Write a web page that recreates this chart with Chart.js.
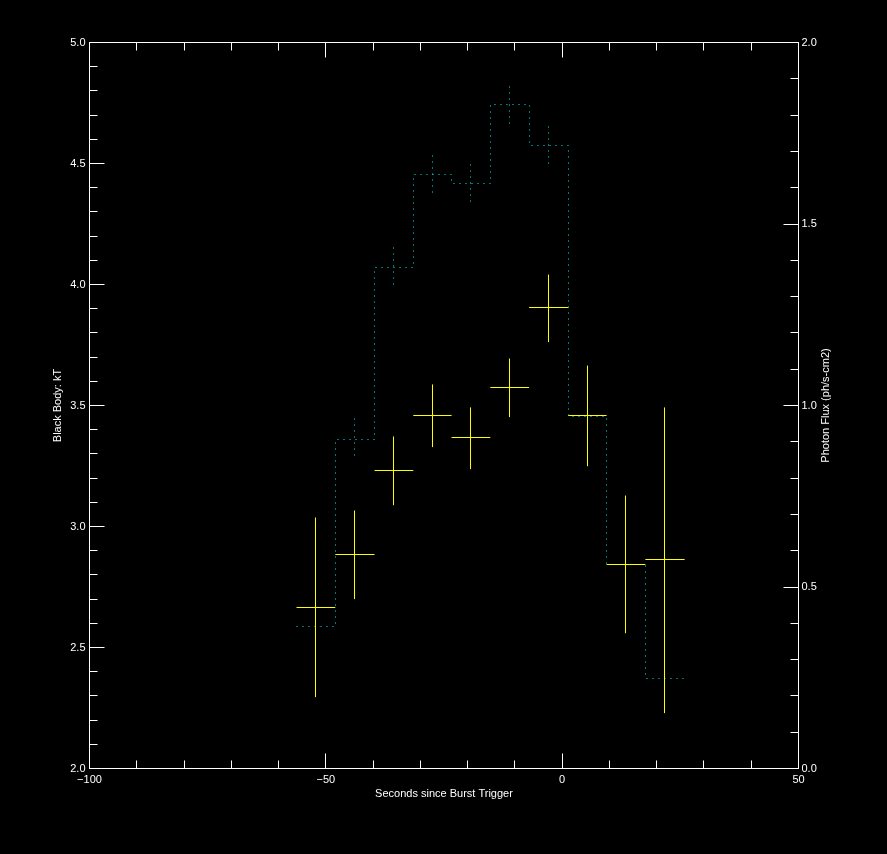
<!DOCTYPE html>
<html lang="en">
<head>
    <meta charset="UTF-8">
    <title>Black Body kT and Photon Flux</title>
    <script src="https://cdn.jsdelivr.net/npm/chart.js@4"></script>
    <style>
        html, body { margin: 0; padding: 0; background: #000; }
        canvas { display: block; }
    </style>
</head>
<body>
    <canvas id="burstChart" width="887" height="854"></canvas>

    <script>
        // time bins (seconds since burst trigger), 10 bins -> 11 edges
        const binEdges = [-56.2, -48.0, -39.7, -31.5, -23.4, -15.2, -7.0, 1.3, 9.4, 17.6, 25.9];

        // black body kT with its error range (left axis)
        const kT     = [2.664, 2.883, 3.230, 3.457, 3.367, 3.573, 3.904, 3.457, 2.843, 2.862];
        const kTLow  = [2.295, 2.700, 3.088, 3.328, 3.237, 3.452, 3.762, 3.249, 2.559, 2.229];
        const kTHigh = [3.037, 3.066, 3.372, 3.587, 3.492, 3.694, 4.041, 3.665, 3.128, 3.492];

        // photon flux (right axis), errors only where visible
        const flux     = [0.390, 0.905, 1.379, 1.636, 1.611, 1.828, 1.715, 0.970, 0.562, 0.247];
        const fluxLow  = [null, 0.848, 1.319, 1.572, 1.547, 1.762, 1.652, null, null, null];
        const fluxHigh = [null, 0.963, 1.434, 1.688, 1.663, 1.878, 1.768, null, null, null];

        // axis ranges and ticks
        const xRange = [-100, 50];
        const kTRange = [2.0, 5.0];
        const fluxRange = [0.0, 2.0];
        const xMajorStep = 50, xMinorStep = 10;
        const kTMajorStep = 0.5, kTMinorStep = 0.1;
        const fluxMajorStep = 0.5, fluxMinorStep = 0.1;

        const fluxColor = 'rgb(0,235,235)';
        const crossColor = '#ffff00';
        const txtFont = { family: 'Liberation Sans, Arial, sans-serif', size: 11 };

        // step line points: left edge of every bin, plus the final right edge
        const stepPoints = binEdges.map((e, i) => ({ x: e, y: i < flux.length ? flux[i] : flux[flux.length - 1] }));

        function crisp(v) { return Math.floor(v) + 0.5; }

        function minusLabel(v) {
            return v < 0 ? '\u2212' + Math.abs(v) : String(v);
        }

        const burstPlugin = {
            id: 'burstPlugin',
            beforeDraw(chart) {
                const c = chart.ctx;
                c.save();
                c.fillStyle = '#000';
                c.fillRect(0, 0, chart.width, chart.height);
                c.restore();
            },
            afterDatasetsDraw(chart) {
                const c = chart.ctx;
                const xs = chart.scales.x, ys = chart.scales.y, y2 = chart.scales.y2;
                const area = chart.chartArea;
                c.save();

                // flux histogram as a dotted step line, snapped to whole pixels
                c.strokeStyle = fluxColor;
                c.lineWidth = 1;
                c.setLineDash([1, 5]);
                const meta = chart.getDatasetMeta(0);
                c.beginPath();
                meta.data.forEach((pt, i) => {
                    const px = crisp(pt.x), py = crisp(pt.y);
                    if (i === 0) {
                        c.moveTo(px, py);
                    } else {
                        const prevY = crisp(meta.data[i - 1].y);
                        c.lineTo(px, prevY);
                        c.lineTo(px, py);
                    }
                });
                c.stroke();

                // flux error bars, dotted
                for (let i = 0; i < flux.length; i++) {
                    if (fluxLow[i] == null) continue;
                    const px = crisp(xs.getPixelForValue((binEdges[i] + binEdges[i + 1]) / 2));
                    c.beginPath();
                    c.moveTo(px, crisp(y2.getPixelForValue(fluxHigh[i])));
                    c.lineTo(px, crisp(y2.getPixelForValue(fluxLow[i])));
                    c.stroke();
                }
                c.setLineDash([]);

                // kT crosses
                c.strokeStyle = crossColor;
                for (let i = 0; i < kT.length; i++) {
                    const x0 = xs.getPixelForValue(binEdges[i]);
                    const x1 = xs.getPixelForValue(binEdges[i + 1]);
                    const xc = crisp(xs.getPixelForValue((binEdges[i] + binEdges[i + 1]) / 2));
                    const yc = crisp(ys.getPixelForValue(kT[i]));
                    c.beginPath();
                    c.moveTo(x0, yc);
                    c.lineTo(x1, yc);
                    c.moveTo(xc, ys.getPixelForValue(kTHigh[i]));
                    c.lineTo(xc, ys.getPixelForValue(kTLow[i]));
                    c.stroke();
                }

                // frame
                c.strokeStyle = '#fff';
                c.strokeRect(area.left, area.top, area.right - area.left, area.bottom - area.top);

                // x ticks, bottom and top
                c.beginPath();
                for (let v = xRange[0]; v <= xRange[1] + 1e-9; v += xMinorStep) {
                    const px = crisp(xs.getPixelForValue(v));
                    const len = Math.abs(v % xMajorStep) < 1e-6 ? 15 : 8;
                    c.moveTo(px, area.bottom); c.lineTo(px, area.bottom - len);
                    c.moveTo(px, area.top); c.lineTo(px, area.top + len);
                }
                // left ticks (kT)
                for (let k = 0; k <= Math.round((kTRange[1] - kTRange[0]) / kTMinorStep); k++) {
                    const v = kTRange[0] + k * kTMinorStep;
                    const py = crisp(ys.getPixelForValue(v));
                    const len = k % Math.round(kTMajorStep / kTMinorStep) === 0 ? 15 : 8;
                    c.moveTo(area.left, py); c.lineTo(area.left + len, py);
                }
                // right ticks (flux)
                for (let k = 0; k <= Math.round((fluxRange[1] - fluxRange[0]) / fluxMinorStep); k++) {
                    const v = fluxRange[0] + k * fluxMinorStep;
                    const py = crisp(y2.getPixelForValue(v));
                    const len = k % Math.round(fluxMajorStep / fluxMinorStep) === 0 ? 15 : 8;
                    c.moveTo(area.right, py); c.lineTo(area.right - len, py);
                }
                c.stroke();

                // right axis title, reading bottom to top
                c.fillStyle = '#fff';
                c.font = txtFont.size + 'px ' + txtFont.family;
                c.textAlign = 'center';
                c.textBaseline = 'middle';
                c.translate(826, (area.top + area.bottom) / 2);
                c.rotate(-Math.PI / 2);
                c.fillText('Photon Flux (ph/s-cm2)', 0, 0);
                c.restore();
            }
        };

        const chart = new Chart(document.getElementById('burstChart'), {
            type: 'line',
            data: {
                datasets: [{
                    label: 'Photon Flux',
                    data: stepPoints,
                    yAxisID: 'y2',
                    showLine: false,   // drawn pixel-snapped by burstPlugin
                    pointRadius: 0,
                    fill: false
                }]
            },
            options: {
                responsive: false,
                animation: false,
                devicePixelRatio: 1,
                layout: { padding: { top: 42.5, left: 0, right: 0, bottom: 0 } },
                plugins: {
                    legend: { display: false },
                    tooltip: { enabled: false }
                },
                scales: {
                    x: {
                        type: 'linear',
                        position: 'bottom',
                        min: xRange[0],
                        max: xRange[1],
                        grid: { display: false, drawTicks: false },
                        border: { display: false },
                        ticks: {
                            stepSize: xMajorStep,
                            color: '#fff',
                            font: txtFont,
                            padding: 5,
                            maxRotation: 0,
                            callback: (v) => minusLabel(v)
                        },
                        title: {
                            display: true,
                            text: 'Seconds since Burst Trigger',
                            color: '#fff',
                            font: txtFont,
                            padding: { top: 0, bottom: 53 }
                        },
                        afterFit(scale) { scale.height = 85.5; }
                    },
                    y: {
                        position: 'left',
                        min: kTRange[0],
                        max: kTRange[1],
                        grid: { display: false, drawTicks: false },
                        border: { display: false },
                        ticks: {
                            stepSize: kTMajorStep,
                            color: '#fff',
                            font: txtFont,
                            padding: 4,
                            callback: (v) => v.toFixed(1)
                        },
                        title: {
                            display: true,
                            text: 'Black Body: kT',
                            color: '#fff',
                            font: txtFont,
                            padding: { top: 51, bottom: 0 }
                        },
                        afterFit(scale) { scale.width = 89.5; }
                    },
                    y2: {
                        position: 'right',
                        min: fluxRange[0],
                        max: fluxRange[1],
                        grid: { display: false, drawTicks: false },
                        border: { display: false },
                        ticks: {
                            stepSize: fluxMajorStep,
                            color: '#fff',
                            font: txtFont,
                            padding: 3,
                            callback: (v) => v.toFixed(1)
                        },
                        afterFit(scale) { scale.width = 88.5; }
                    }
                }
            },
            plugins: [burstPlugin]
        });
    </script>
</body>
</html>
